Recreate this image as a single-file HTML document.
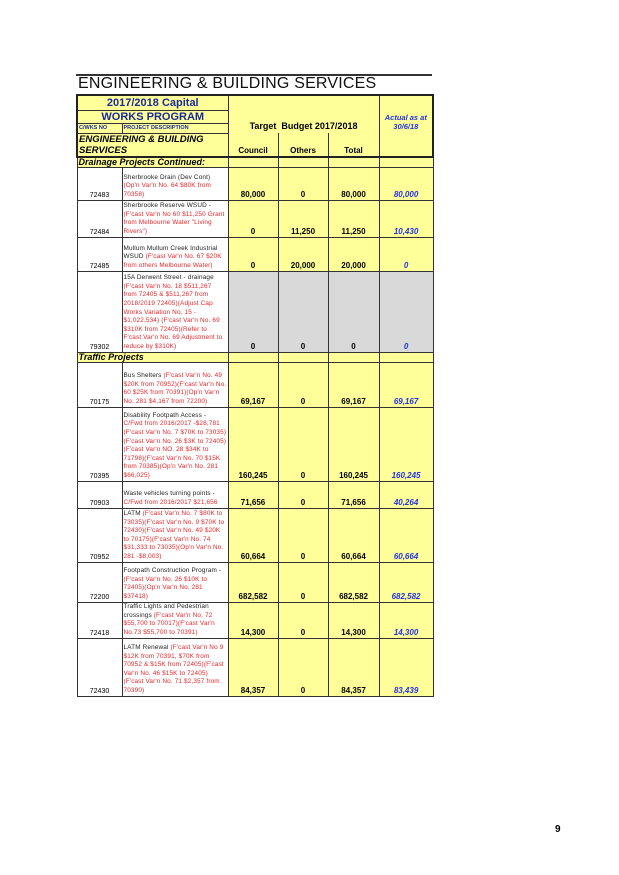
<!DOCTYPE html>
<html><head><meta charset="utf-8"><style>
body{margin:0;width:619px;height:875px;background:#fff;position:relative;font-family:"Liberation Sans",Arial,sans-serif;overflow:hidden}
.rule{position:absolute;left:76px;top:74px;width:356px;height:2px;background:#333}
.title{position:absolute;left:78px;top:75px;font-size:16px;letter-spacing:0.2px;color:#111}
table{position:absolute;left:76px;top:94px;border-collapse:collapse;table-layout:fixed;width:356px}
td{border:1px solid #333;padding:0 1px;background:#ffff99;font-size:8px;vertical-align:bottom;overflow:hidden}
.hd{border:2px solid #222}
.w{background:#fff}
.g{background:#d9d9d9}
.id{text-align:center;font-size:7px;padding-bottom:1px}
.ds{font-size:6.4px;line-height:8.6px;color:#222;vertical-align:bottom;letter-spacing:0.15px}
.r{color:#e8262a}
.n{text-align:center;font-weight:bold;padding-bottom:1px}
.a{text-align:center;font-weight:bold;font-style:italic;color:#2233dd;padding-bottom:1px}
.sec{font-weight:bold;font-style:italic;font-size:9px;vertical-align:middle;line-height:9px}
.pg{position:absolute;left:555px;top:824px;font-size:10px;font-weight:bold}
</style></head><body>
<div class="rule"></div>
<div class="title">ENGINEERING &amp; BUILDING SERVICES</div>
<table>
<colgroup><col style="width:45px"><col style="width:106px"><col style="width:50px"><col style="width:50px"><col style="width:51px"><col style="width:54px"></colgroup>
<tr style="height:15px"><td colspan="2" style="text-align:center;font-size:11px;font-weight:bold;color:#1a2a99;vertical-align:middle;border-top:2px solid #222;border-left:2px solid #222">2017/2018 Capital</td>
<td colspan="3" rowspan="3" style="text-align:center;font-weight:bold;font-size:9px;vertical-align:bottom;padding-bottom:2px;border-top:2px solid #222;border-bottom:none">Target&nbsp; Budget 2017/2018</td>
<td rowspan="3" style="text-align:center;font-weight:bold;font-style:italic;color:#2233dd;font-size:7.5px;vertical-align:bottom;padding-bottom:2px;border-top:2px solid #222;border-right:2px solid #222;border-bottom:none">Actual as at<br>30/6/18</td></tr>
<tr style="height:13px"><td colspan="2" style="text-align:center;font-size:11px;font-weight:bold;color:#1a2a99;vertical-align:middle;border-left:2px solid #222">WORKS PROGRAM</td></tr>
<tr style="height:10px"><td style="font-size:5.5px;font-weight:bold;color:#1a2a99;vertical-align:middle;border-left:2px solid #222">C/WKS NO</td><td style="font-size:5.5px;font-weight:bold;color:#1a2a99;vertical-align:middle">PROJECT DESCRIPTION</td></tr>
<tr style="height:21px"><td colspan="2" style="font-weight:bold;font-style:italic;font-size:9.5px;line-height:11px;vertical-align:middle;border-left:2px solid #222;border-bottom:2px solid #222;white-space:nowrap">ENGINEERING &amp; BUILDING<br>SERVICES</td>
<td class="n" style="border-top:none;border-bottom:2px solid #222">Council</td><td class="n" style="border-top:none;border-bottom:2px solid #222">Others</td><td class="n" style="border-top:none;border-bottom:2px solid #222">Total</td><td style="border-top:none;border-right:2px solid #222;border-bottom:2px solid #222"></td></tr>
<tr style="height:10px"><td colspan="2" class="sec" style="white-space:nowrap">Drainage Projects Continued:</td><td></td><td></td><td></td><td></td></tr>
<tr style="height:33px"><td class="w id">72483</td><td class="w ds">Sherbrooke Drain (Dev Cont) <span class="r">(Op'n Var'n No. 64 $80K from 70358)</span></td><td class="n">80,000</td><td class="n">0</td><td class="n">80,000</td><td class="a">80,000</td></tr>
<tr style="height:37px"><td class="w id">72484</td><td class="w ds">Sherbrooke Reserve WSUD - <span class="r">(F'cast Var'n No 60 $11,250 Grant from Melbourne Water "Living Rivers")</span></td><td class="n">0</td><td class="n">11,250</td><td class="n">11,250</td><td class="a">10,430</td></tr>
<tr style="height:34px"><td class="w id">72485</td><td class="w ds">Mullum Mullum Creek Industrial WSUD <span class="r">(F'cast Var'n No. 67 $20K from others Melbourne Water)</span></td><td class="n">0</td><td class="n">20,000</td><td class="n">20,000</td><td class="a">0</td></tr>
<tr style="height:81px"><td class="w id">79302</td><td class="w ds">15A Derwent Street - drainage <span class="r">(F'cast Var'n No. 18 $511,267 from 72405 &amp; $511,267 from 2018/2019 72405)(Adjust Cap Works Variation No. 15 - $1,022,534) (F'cast Var'n No. 69 $310K from 72405)(Refer to F'cast Var'n No. 69 Adjustment to reduce by $310K)</span></td><td class="n g">0</td><td class="n g">0</td><td class="n g">0</td><td class="a g">0</td></tr>
<tr style="height:10px"><td colspan="2" class="sec">Traffic Projects</td><td></td><td></td><td></td><td></td></tr>
<tr style="height:45px"><td class="w id">70175</td><td class="w ds">Bus Shelters <span class="r">(F'cast Var'n No. 49 $20K from 70952)(F'cast Var'n No. 60 $25K from 70391)(Op'n Var'n No. 281 $4,167 from 72200)</span></td><td class="n">69,167</td><td class="n">0</td><td class="n">69,167</td><td class="a">69,167</td></tr>
<tr style="height:74px"><td class="w id">70395</td><td class="w ds">Disability Footpath Access - <span class="r">C/Fwd from 2016/2017 -$28,781 (F'cast Var'n No. 7 $70K to 73035)(F'cast Var'n No. 26 $3K to 72405)(F'cast Var'n NO. 28 $34K to 71798)(F'cast Var'n No. 70 $15K from 70385)(Op'n Var'n No. 281 $66,025)</span></td><td class="n">160,245</td><td class="n">0</td><td class="n">160,245</td><td class="a">160,245</td></tr>
<tr style="height:27px"><td class="w id">70903</td><td class="w ds">Waste vehicles turning points - <span class="r">C/Fwd from 2016/2017 $21,656</span></td><td class="n">71,656</td><td class="n">0</td><td class="n">71,656</td><td class="a">40,264</td></tr>
<tr style="height:54px"><td class="w id">70952</td><td class="w ds">LATM <span class="r">(F'cast Var'n No. 7 $80K to 73035)(F'cast Var'n No. 9 $70K to 72430)(F'cast Var'n No. 49 $20K to 70175)(F'cast Var'n No. 74 $31,333 to 73035)(Op'n Var'n No. 281 -$8,003)</span></td><td class="n">60,664</td><td class="n">0</td><td class="n">60,664</td><td class="a">60,664</td></tr>
<tr style="height:40px"><td class="w id">72200</td><td class="w ds">Footpath Construction Program - <span class="r">(F'cast Var'n No. 26 $10K to 72405)(Op'n Var'n No. 281 $37418)</span></td><td class="n">682,582</td><td class="n">0</td><td class="n">682,582</td><td class="a">682,582</td></tr>
<tr style="height:36px"><td class="w id">72418</td><td class="w ds">Traffic Lights and Pedestrian crossings <span class="r">(F'cast Var'n No. 72 $55,700 to 70017)(F'cast Var'n No.73 $55,700 to 70391)</span></td><td class="n">14,300</td><td class="n">0</td><td class="n">14,300</td><td class="a">14,300</td></tr>
<tr style="height:58px"><td class="w id">72430</td><td class="w ds">LATM Renewal <span class="r">(F'cast Var'n No 9 $12K from 70391, $70K from 70952 &amp; $15K from 72405)(F'cast Var'n No. 46 $15K to 72405)(F'cast Var'n No. 71 $2,357 from 70390)</span></td><td class="n">84,357</td><td class="n">0</td><td class="n">84,357</td><td class="a">83,439</td></tr>
</table>
<div class="pg">9</div>
</body></html>
